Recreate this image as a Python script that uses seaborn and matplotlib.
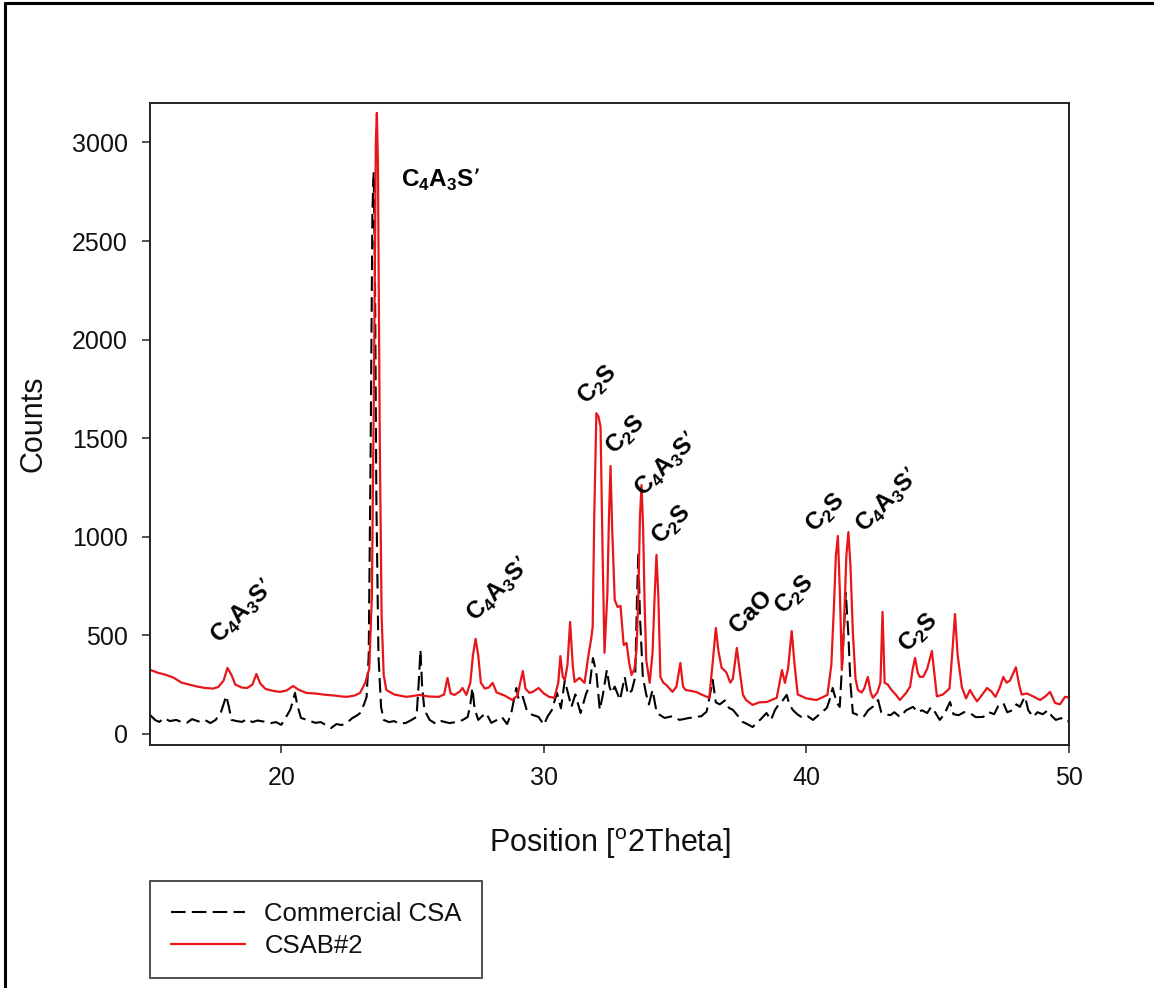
import numpy as np
import pandas as pd
import matplotlib
matplotlib.use("Agg")
import matplotlib.pyplot as plt
import seaborn as sns
from matplotlib.lines import Line2D

# ---------------- data ----------------
red_x = [15.0, 15.3, 15.6, 15.9, 16.2, 16.5, 16.8, 17.1, 17.4, 17.6, 17.8, 17.95, 18.1, 18.25, 18.5, 18.7,
         18.9, 19.05, 19.2, 19.4, 19.7, 19.95, 20.2, 20.45, 20.65, 20.95, 21.3, 21.7, 22.0, 22.3, 22.5, 22.8,
         23.0, 23.2, 23.35, 23.45, 23.53, 23.6, 23.64, 23.68, 23.75, 23.82, 23.9, 24.0, 24.3, 24.76, 25.0,
         25.26, 25.6, 26.0, 26.2, 26.33, 26.45, 26.6, 26.8, 26.9, 27.05, 27.2, 27.3, 27.4, 27.5, 27.6, 27.75,
         27.9, 28.05, 28.2, 28.5, 28.8, 29.0, 29.1, 29.2, 29.3, 29.45, 29.6, 29.8, 30.0, 30.2, 30.4, 30.55,
         30.63, 30.72, 30.8, 30.9, 31.0, 31.1, 31.17, 31.36, 31.55, 31.7, 31.8, 31.86, 31.92, 32.0, 32.08,
         32.16, 32.24, 32.31, 32.42, 32.48, 32.54, 32.6, 32.7, 32.81, 32.92, 32.98, 33.04, 33.15, 33.25,
         33.34, 33.45, 33.53, 33.6, 33.66, 33.72, 33.78, 33.84, 33.9, 34.03, 34.14, 34.22, 34.29, 34.36,
         34.44, 34.55, 34.67, 34.9, 35.05, 35.2, 35.3, 35.4, 35.8, 36.0, 36.3, 36.44, 36.55, 36.65, 36.77,
         36.9, 36.96, 37.1, 37.2, 37.35, 37.45, 37.58, 37.7, 37.95, 38.2, 38.5, 38.87, 39.07, 39.18, 39.3,
         39.44, 39.55, 39.67, 40.0, 40.38, 40.6, 40.8, 40.95, 41.05, 41.12, 41.2, 41.28, 41.35, 41.43, 41.52,
         41.6, 41.68, 41.77, 41.87, 41.96, 42.1, 42.2, 42.34, 42.45, 42.53, 42.7, 42.82, 42.9, 42.98, 43.1,
         43.24, 43.4, 43.56, 43.8, 43.95, 44.05, 44.14, 44.24, 44.32, 44.45, 44.6, 44.78, 44.88, 44.97, 45.2,
         45.45, 45.55, 45.66, 45.76, 45.92, 46.08, 46.23, 46.35, 46.5, 46.7, 46.88, 47.05, 47.2, 47.35, 47.5,
         47.62, 47.75, 47.98, 48.1, 48.2, 48.4, 48.64, 48.9, 49.1, 49.28, 49.47, 49.66, 49.85, 50.0]
red_y = [325, 310, 300, 285, 260, 250, 240, 233, 230, 238, 270, 335, 300, 250, 235, 233,
         250, 304, 255, 228, 218, 213, 220, 243, 225, 208, 205, 198, 195, 190, 188, 195,
         208, 260, 330, 700, 1800, 3000, 3150, 2900, 1500, 600, 300, 223, 200, 188, 192,
         198, 190, 188, 200, 284, 205, 198, 215, 233, 198, 260, 400, 482, 400, 260, 230,
         235, 259, 210, 195, 172, 195, 260, 319, 230, 208, 215, 233, 205, 188, 183, 260,
         395, 290, 274, 350, 568, 350, 264, 284, 259, 400, 480, 543, 1100, 1627, 1610,
         1557, 900, 411, 715, 1100, 1359, 1050, 679, 644, 649, 550, 451, 461, 360,
         299, 330, 426, 700, 1100, 1262, 1050, 650, 375, 259, 411, 700, 908, 700,
         289, 260, 248, 213, 240, 360, 240, 223, 213, 200, 183, 375, 537, 420, 335,
         320, 309, 260, 280, 436, 330, 200, 172, 147, 160, 162, 183, 324, 259, 330,
         522, 350, 200, 180, 172, 185, 198, 350, 650, 900, 1004, 700, 324, 543, 900,
         1024, 850, 512, 280, 223, 210, 230, 289, 210, 183, 210, 260, 619, 259, 250,
         223, 200, 172, 208, 240, 330, 385, 310, 289, 290, 330, 421, 300, 190, 200,
         230, 400, 608, 400, 238, 180, 223, 195, 165, 200, 233, 215, 188, 230, 289,
         260, 270, 338, 250, 200, 205, 190, 172, 190, 213, 157, 150, 188, 185]

blk_x = [15.0, 15.2, 15.35, 15.55, 15.75, 16.0, 16.2, 16.4, 16.6, 16.9, 17.1, 17.3, 17.5, 17.7, 17.8, 17.9,
         18.0, 18.1, 18.3, 18.5, 18.7, 18.9, 19.1, 19.4, 19.6, 19.8, 20.0, 20.2, 20.34, 20.45, 20.52, 20.62,
         20.75, 21.0, 21.3, 21.5, 21.7, 21.9, 22.1, 22.3, 22.5, 22.7, 22.9, 23.0, 23.15, 23.25, 23.33, 23.4,
         23.47, 23.52, 23.57, 23.62, 23.7, 23.8, 23.9, 24.1, 24.3, 24.5, 24.75, 24.95, 25.15, 25.23, 25.3,
         25.36, 25.45, 25.65, 25.9, 26.1, 26.4, 26.7, 26.9, 27.1, 27.2, 27.28, 27.36, 27.5, 27.65, 27.8,
         28.0, 28.2, 28.4, 28.6, 28.75, 28.95, 29.05, 29.2, 29.35, 29.5, 29.8, 30.0, 30.15, 30.3, 30.5,
         30.65, 30.8, 30.87, 31.05, 31.2, 31.4, 31.6, 31.75, 31.87, 32.0, 32.13, 32.25, 32.4, 32.5, 32.58,
         32.7, 32.9, 33.08, 33.2, 33.35, 33.48, 33.55, 33.6, 33.66, 33.77, 33.9, 34.0, 34.14, 34.3, 34.6,
         34.9, 35.17, 35.5, 35.8, 36.0, 36.2, 36.33, 36.43, 36.55, 36.7, 36.9, 37.05, 37.2, 37.4, 37.57,
         37.75, 37.95, 38.15, 38.3, 38.48, 38.65, 38.8, 38.98, 39.1, 39.25, 39.35, 39.48, 39.65, 39.86,
         40.05, 40.25, 40.5, 40.78, 40.9, 41.0, 41.15, 41.27, 41.38, 41.5, 41.6, 41.68, 41.77, 41.9, 42.03,
         42.2, 42.35, 42.55, 42.73, 42.85, 43.0, 43.2, 43.35, 43.56, 43.8, 44.06, 44.25, 44.4, 44.6, 44.75,
         44.9, 45.08, 45.25, 45.47, 45.6, 45.8, 46.0, 46.23, 46.45, 46.73, 46.95, 47.15, 47.3, 47.5, 47.65,
         47.85, 48.0, 48.13, 48.25, 48.33, 48.45, 48.64, 48.8, 49.0, 49.2, 49.35, 49.5, 49.7, 49.9, 50.0]
blk_y = [96, 70, 61, 80, 65, 71, 60, 56, 75, 61, 70, 55, 71, 110, 150, 193,
         140, 71, 65, 61, 75, 60, 68, 61, 55, 60, 46, 90, 122, 170, 208, 140,
         81, 70, 56, 60, 45, 30, 50, 45, 56, 80, 95, 106, 150, 188, 400, 1400,
         2650, 2850, 2300, 1200, 400, 137, 71, 60, 65, 52, 56, 70, 86, 250, 426,
         250, 122, 71, 50, 65, 55, 61, 70, 86, 150, 233, 130, 71, 90, 106,
         56, 70, 86, 50, 100, 233, 170, 188, 120, 100, 86, 46, 90, 120, 208,
         130, 274, 233, 137, 200, 106, 200, 250, 385, 309, 122, 200, 324, 240, 208,
         240, 172, 289, 200, 220, 289, 700, 918, 600, 289, 200, 150, 223, 106, 81,
         90, 71, 80, 86, 90, 113, 200, 274, 160, 150, 170, 132, 122, 90, 61,
         50, 35, 60, 80, 106, 70, 120, 157, 170, 198, 150, 122, 100, 81,
         90, 71, 100, 132, 180, 233, 160, 137, 400, 715, 500, 250, 106, 100, 86,
         90, 120, 140, 172, 110, 100, 95, 110, 86, 120, 137, 110, 120, 106, 137,
         110, 71, 100, 162, 100, 95, 110, 106, 85, 86, 110, 100, 140, 157, 110,
         120, 150, 137, 170, 188, 120, 86, 110, 100, 120, 90, 71, 80, 61, 65]

series_names = ["Commercial CSA", "CSAB#2"]
x_ticks = [20, 30, 40, 50]
y_ticks = [0, 500, 1000, 1500, 2000, 2500, 3000]

# peak labels: (text, x, y, rotation)
C4A3S = "C$_\\mathregular{4}$A$_\\mathregular{3}$S\u2019"
C2S = "C$_\\mathregular{2}$S"
label_text = [C4A3S, C4A3S, C4A3S, C2S, C2S, C4A3S, C2S, "CaO", C2S, C2S, C4A3S, C2S]
label_x = [18.55, 24.55, 28.3, 32.05, 33.15, 34.7, 34.9, 37.9, 39.55, 40.75, 43.1, 44.3]
label_y = [620, 2810, 730, 1770, 1516, 1364, 1060, 620, 705, 1120, 1186, 512]
label_rot = [45, 0, 45, 45, 45, 45, 45, 45, 45, 45, 45, 45]

# ---------------- figure ----------------
sns.set_theme(style="white")
plt.rcParams["font.family"] = ["Liberation Sans", "DejaVu Sans"]

fig = plt.figure(figsize=(11.54, 9.88), dpi=100)
ax = fig.add_axes([0.130, 0.246, 0.7963, 0.6497])

df_blk = pd.DataFrame({"x": blk_x, "y": blk_y})
df_red = pd.DataFrame({"x": red_x, "y": red_y})

sns.lineplot(data=df_blk, x="x", y="y", ax=ax, color="black", lw=1.5,
             linestyle=(0, (7, 3)), estimator=None, sort=False, label=series_names[0])
sns.lineplot(data=df_red, x="x", y="y", ax=ax, color="#e8161b", lw=1.6,
             estimator=None, sort=False, label=series_names[1])

ax.set_xlim(15, 50)
ax.set_ylim(-56, 3200)
ax.set_xticks(x_ticks)
ax.set_yticks(y_ticks)
ax.tick_params(axis="both", which="major", direction="out", length=6, width=1.1,
               color="#222222", labelsize=18, labelcolor="#111111", bottom=True, left=True)
ax.tick_params(axis="x", pad=9)
ax.tick_params(axis="y", pad=10)
for sp in ax.spines.values():
    sp.set_color("#222222")
    sp.set_linewidth(1.4)
ax.grid(False)

ax.set_xlabel("Position [$^\\mathregular{o}$2Theta]", fontsize=22, color="#111111", labelpad=26)
ax.set_ylabel("Counts", fontsize=22, color="#111111", labelpad=17)

for t, x, y, r in zip(label_text, label_x, label_y, label_rot):
    ax.text(x, y, t, rotation=r, rotation_mode="anchor",
            ha="left" if r == 0 else "center", va="center",
            fontsize=17.5, fontweight="bold", color="black")

ax.legend_.remove()
handles = [Line2D([], [], color="black", lw=1.5, linestyle=(0, (7, 3))),
           Line2D([], [], color="#e8161b", lw=1.6)]
leg = fig.legend(handles, series_names, loc="lower left", bbox_to_anchor=(0.130, 0.010),
                 fontsize=18.5, frameon=True, fancybox=False, edgecolor="#222222",
                 handlelength=2.9, handletextpad=0.75, borderpad=0.8, labelspacing=0.3,
                 borderaxespad=0)
leg.get_frame().set_linewidth(1.4)
for txt in leg.get_texts():
    txt.set_color("#111111")

# outer frame (left and top edges visible in reference)
fig.add_artist(Line2D([5 / 1154, 5 / 1154], [0, 1 - 3 / 988], transform=fig.transFigure,
                      color="black", lw=2.2))
fig.add_artist(Line2D([5 / 1154, 1], [1 - 3 / 988, 1 - 3 / 988], transform=fig.transFigure,
                      color="black", lw=2.2))

fig.savefig("out.png", dpi=100)
